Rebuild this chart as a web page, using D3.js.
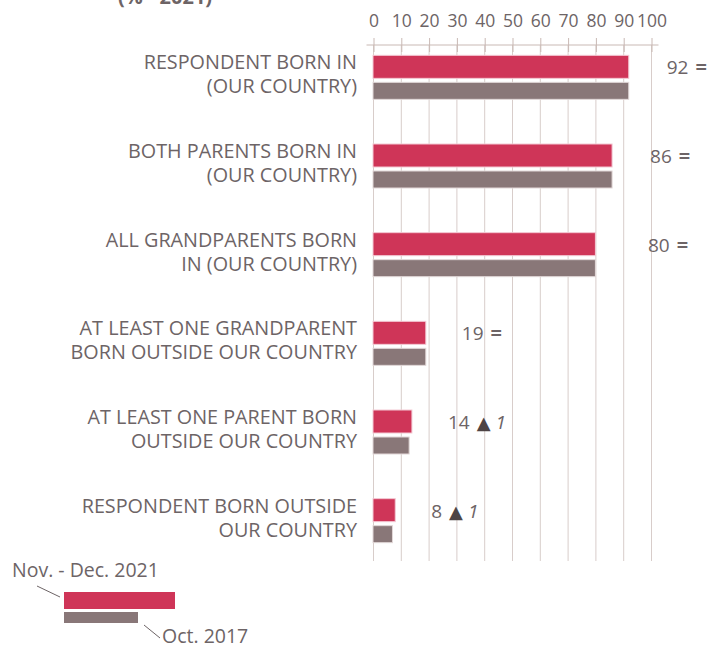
<!DOCTYPE html>
<html>
<head>
<meta charset="utf-8">
<script src="https://cdn.jsdelivr.net/npm/d3@7"></script>
<style>
    body { margin: 0; background: #ffffff; }
    svg { display: block; font-family: "Open Sans", "Noto Sans", sans-serif; }
</style>
</head>
<body>
<svg id="drawing_region"></svg>
<script>
const categories = [
    'RESPONDENT BORN IN|(OUR COUNTRY)',
    'BOTH PARENTS BORN IN|(OUR COUNTRY)',
    'ALL GRANDPARENTS BORN|IN (OUR COUNTRY)',
    'AT LEAST ONE GRANDPARENT|BORN OUTSIDE OUR COUNTRY',
    'AT LEAST ONE PARENT BORN|OUTSIDE OUR COUNTRY',
    'RESPONDENT BORN OUTSIDE|OUR COUNTRY'
];
const values2021 = [92, 86, 80, 19, 14, 8];
const values2017 = [92, 86, 80, 19, 13, 7];
const changeSigns = ['=', '=', '=', '=', '▲', '▲'];
const changeValues = ['', '', '', '', '1', '1'];
const xTicks = [0, 10, 20, 30, 40, 50, 60, 70, 80, 90, 100];
const seriesNames = ['Nov. - Dec. 2021', 'Oct. 2017'];
const titleText = '(% - 2021)';

class BarChart {

    constructor(config) {
        this.config = {
            parent: config.parent,
            width: config.width,
            height: config.height,
            margin: config.margin
        };
        this.init();
    }

    init() {
        const self = this;
        const m = self.config.margin;

        self.svg = d3.select(self.config.parent)
            .attr('width', self.config.width)
            .attr('height', self.config.height);

        self.xscale = d3.scaleLinear()
            .domain([0, 100])
            .range([m.left, self.config.width - m.right]);

        self.yscale = d3.scaleBand()
            .domain(categories)
            .range([m.top, self.config.height - m.bottom])
            .padding(0);

        self.textColor = '#6d6466';
        self.red = '#cf3558';
        self.grey = '#897778';
    }

    render() {
        const self = this;
        const x = self.xscale;
        const y = self.yscale;
        const step = y.step();
        const axisY = 45;
        const gridBottom = 561;

        // title (cut off at the top, as in the source)
        self.svg.append('text')
            .attr('x', 118)
            .attr('y', 4)
            .attr('font-size', 20)
            .attr('font-weight', 'bold')
            .attr('fill', self.textColor)
            .text(titleText);

        // gridlines
        self.svg.append('g')
            .selectAll('line')
            .data(xTicks)
            .join('line')
            .attr('x1', d => x(d) + 0.5)
            .attr('x2', d => x(d) + 0.5)
            .attr('y1', axisY)
            .attr('y2', gridBottom)
            .attr('stroke', '#d8cdca')
            .attr('stroke-width', 1);

        // axis
        const xaxis = d3.axisTop(x)
            .tickValues(xTicks)
            .tickSize(7)
            .tickPadding(10)
            .tickFormat(d3.format('d'));

        const axisGroup = self.svg.append('g')
            .attr('transform', `translate(0.5, ${axisY})`)
            .call(xaxis);

        axisGroup.select('.domain').remove();
        axisGroup.selectAll('.tick line')
            .attr('y1', -7)
            .attr('y2', 7)
            .attr('stroke', '#c9b9b4');
        axisGroup.selectAll('.tick text')
            .attr('y', -18)
            .attr('dy', 0)
            .attr('font-size', 17.5)
            .attr('font-family', '"Open Sans", sans-serif')
            .attr('fill', self.textColor);
        axisGroup.append('line')
            .attr('x1', x(0) - 7)
            .attr('x2', x(100) + 7)
            .attr('stroke', '#c9b9b4');

        // rows
        const rows = self.svg.append('g')
            .selectAll('g')
            .data(categories)
            .join('g')
            .attr('transform', d => `translate(0, ${y(d) + step / 2})`);

        rows.append('rect')
            .attr('x', x(0))
            .attr('y', -22)
            .attr('width', (d, i) => x(values2021[i]) - x(0))
            .attr('height', 23)
            .attr('fill', self.red)
            .attr('stroke', '#f3c9d3')
            .attr('stroke-width', 1);

        rows.append('rect')
            .attr('x', x(0))
            .attr('y', 5)
            .attr('width', (d, i) => x(values2017[i]) - x(0))
            .attr('height', 17)
            .attr('fill', self.grey)
            .attr('stroke', '#e2d8d8')
            .attr('stroke-width', 1);

        // category labels, one text per line
        rows.selectAll('.cat')
            .data(d => d.split('|'))
            .join('text')
            .attr('class', 'cat')
            .attr('text-anchor', 'end')
            .attr('font-size', 19.8)
            .attr('fill', self.textColor)
            .attr('x', 357)
            .attr('y', (d, i) => i === 0 ? -8 : 16)
            .text(d => d);

        // value labels
        const labelX = (v) => v > 50
            ? Math.max(x(v) + 38, x(100) - 3)
            : x(v) + 36;

        const labels = rows.append('text')
            .attr('x', (d, i) => labelX(values2021[i]))
            .attr('y', -3)
            .attr('font-size', 19)
            .attr('fill', self.textColor);

        labels.append('tspan')
            .text((d, i) => values2021[i]);
        labels.append('tspan')
            .attr('dx', 7)
            .attr('fill', (d, i) => changeSigns[i] === '=' ? self.textColor : '#4e4445')
            .attr('font-weight', (d, i) => changeSigns[i] === '=' ? 'bold' : 'normal')
            .attr('font-size', (d, i) => changeSigns[i] === '=' ? 20 : 18)
            .attr('font-family', (d, i) => changeSigns[i] === '=' ? null : '"DejaVu Sans", sans-serif')
            .text((d, i) => changeSigns[i]);
        labels.append('tspan')
            .attr('dx', 5)
            .attr('font-style', 'italic')
            .text((d, i) => changeValues[i]);

        // legend
        const legend = self.svg.append('g');

        legend.append('text')
            .attr('x', 12)
            .attr('y', 577)
            .attr('font-size', 19.5)
            .attr('fill', self.textColor)
            .text(seriesNames[0]);
        legend.append('line')
            .attr('x1', 37).attr('y1', 586)
            .attr('x2', 60).attr('y2', 597)
            .attr('stroke', self.textColor);
        legend.append('rect')
            .attr('x', 64).attr('y', 592)
            .attr('width', 111).attr('height', 17)
            .attr('fill', self.red);
        legend.append('rect')
            .attr('x', 64).attr('y', 612)
            .attr('width', 74).attr('height', 11)
            .attr('fill', self.grey);
        legend.append('line')
            .attr('x1', 144).attr('y1', 625)
            .attr('x2', 160).attr('y2', 638)
            .attr('stroke', self.textColor);
        legend.append('text')
            .attr('x', 162)
            .attr('y', 643)
            .attr('font-size', 19.5)
            .attr('fill', self.textColor)
            .text(seriesNames[1]);
    }
}

const config = {
    parent: '#drawing_region',
    width: 714,
    height: 647,
    margin: { top: 33, right: 63, bottom: 82, left: 373 }
};

const chart = new BarChart(config);
chart.render();
</script>
</body>
</html>
